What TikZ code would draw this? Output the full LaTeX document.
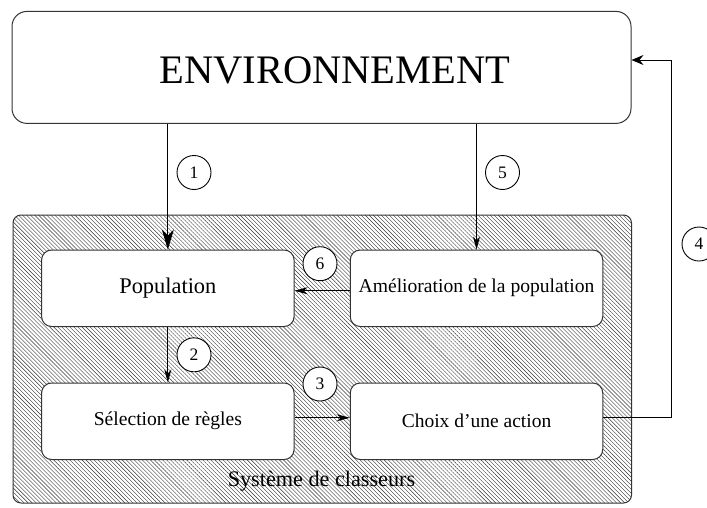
\documentclass[tikz,border=0pt]{standalone}
\usepackage{fontspec}
\setmainfont{Liberation Serif}
\usetikzlibrary{arrows.meta,patterns.meta}
\begin{document}
\begin{tikzpicture}[x=1pt,y=-1pt,
  box/.style={draw=black!80, line width=1pt, rounded corners=10pt, fill=white,
    minimum width=252.5pt, minimum height=76.5pt, inner sep=0pt},
  num/.style={draw, circle, fill=white, line width=0.9pt, minimum size=34pt, inner sep=0pt,
    font=\fontsize{17.5}{17.5}\selectfont},
  conn/.style={line width=0.8pt},
  bighead/.style={-{Stealth[length=20pt,width=12pt,inset=6pt]}},
  smallhead/.style={-{Stealth[length=13pt,width=7pt,inset=4pt]}},
  backhead/.style={-{Stealth[length=12pt,width=10pt,inset=4pt]}}]
\useasboundingbox (0,0) rectangle (707,507);
\clip (0,0) rectangle (707,507);
% system of classifiers (hatched)
\node[draw=black!80, line width=1pt, rounded corners=8pt, minimum width=618.5pt,
  minimum height=288pt, inner sep=0pt,
  pattern={Lines[angle=-45,distance=2.85pt,line width=0.4pt]}, pattern color=black!80] (sys) at (322.25,359) {};
\node[anchor=base, font=\fontsize{22.2}{22.2}\selectfont] (syst) at (321.5,486.7) {Système de classeurs};
% environment
\node[draw=black!80, line width=1pt, rounded corners=15pt, minimum width=619pt,
  minimum height=112pt, inner sep=0pt, fill=white] (env) at (321.5,67.4) {};
\node[font=\fontsize{40.5}{40.5}\selectfont, inner sep=0pt] (envt) at (335,70) {ENVIRONNEMENT};
% inner boxes
\node[box, font=\fontsize{22.4}{22.4}\selectfont] (pop) at (167.85,288.25) {Population};
\node[box, font=\fontsize{19.6}{19.6}\selectfont] (amel) at (476.5,288.25) {Amélioration de la population};
\node[box, font=\fontsize{19.6}{19.6}\selectfont] (sel) at (167.85,421.25) {Sélection de règles};
\node[box, font=\fontsize{19.5}{19.5}\selectfont] (choix) at (476.5,421.25) {Choix d’une action};
% connectors
\draw[conn, bighead] (env.south -| pop.north) -- (pop.north);
\draw[conn, smallhead] (env.south -| amel.north) -- (amel.north);
\draw[conn, smallhead] ([yshift=-2.5pt]amel.west) -- ([yshift=-2.5pt]pop.east);
\draw[conn, smallhead] (pop.south) -- (sel.north);
\draw[conn, smallhead] ([yshift=3.5pt]sel.east) -- ([yshift=3.5pt]choix.west);
\coordinate (r4) at (671.7,60);
\draw[conn, backhead] ([yshift=3.5pt]choix.east) -| (r4) -- (r4 -| env.east);
% numbers
\node[num] (n1) at (194,172.5) {1};
\node[num] (n5) at (502.5,172.5) {5};
\node[num] (n6) at (320,263.7) {6};
\node[num] (n2) at (194,354.8) {2};
\node[num] (n3) at (320,384) {3};
\node[num] (n4) at (699,244) {4};
\end{tikzpicture}
\end{document}
